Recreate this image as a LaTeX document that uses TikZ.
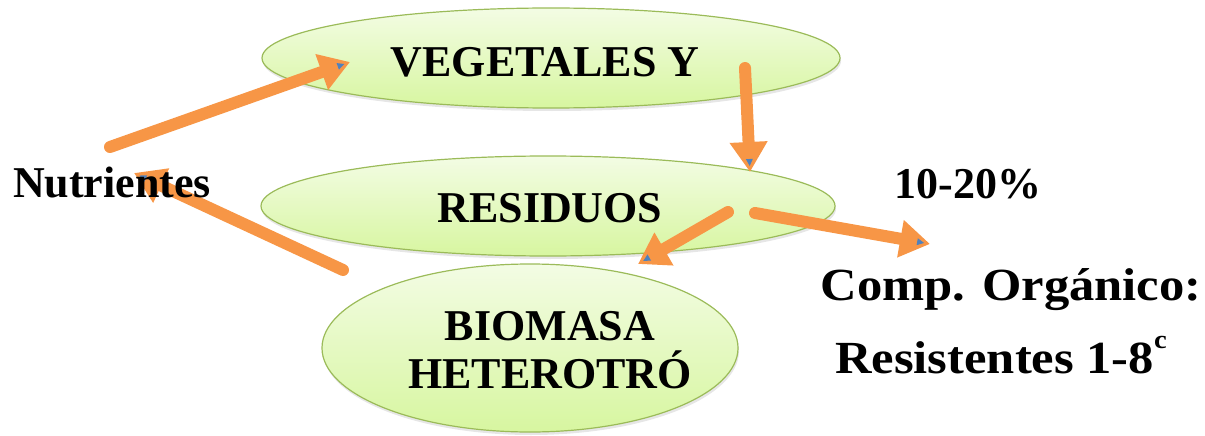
\documentclass[tikz,border=0pt]{standalone}
\usepackage{fontspec}
\setmainfont{Liberation Serif}
\usetikzlibrary{arrows.meta}
\usetikzlibrary{shapes.geometric}
\usetikzlibrary{shadows}
\usetikzlibrary{decorations.markings}
\definecolor{morange}{RGB}{247, 150, 70}
\definecolor{mgreen}{RGB}{155, 187, 89}
\definecolor{mlight}{RGB}{243, 252, 228}
\definecolor{mlime}{RGB}{215, 246, 160}
\definecolor{mblue}{RGB}{79, 129, 189}
\tikzset{blob/.style = {ellipse, draw=mgreen, line width=1.2pt, inner sep=0pt,
                        top color=mlight, bottom color=mlime,
                        drop shadow={opacity=0.2, shadow xshift=1pt, shadow yshift=-3pt}},
         lbl/.style = {font=\fontsize{44}{48}\selectfont\bfseries, align=center, anchor=base, inner sep=0pt},
         wide/.style = {font=\fontsize{46}{48}\selectfont\bfseries, xscale=1.1},
         flow/.style = {draw=morange, line width=12pt, line cap=round,
                        -{Triangle[length=30pt, width=36pt]},
                        decoration={markings,
                                    mark=at position 1 with {\fill[mblue] (-13pt, -3.5pt) -- (-6pt, 0) -- (-13pt, 3.5pt) -- cycle;}},
                        postaction={decorate}}}

\begin{document}
\begin{tikzpicture}[x=1pt, y=-1pt]
    \useasboundingbox (0, 0) rectangle (1205, 436);

    \node [blob, minimum width=578pt, minimum height=100pt] (veg) at (551, 58) {};
    \node [blob, minimum width=574pt, minimum height=100pt] (res) at (548, 206) {};
    \node [blob, minimum width=416pt, minimum height=168pt] (bio) at (530, 348) {};

    \coordinate (nut-out) at (110, 147);
    \coordinate (veg-in) at (350, 62);
    \coordinate (veg-out) at (745, 68);
    \coordinate (res-in) at (750, 172);
    \coordinate (res-bio) at (728, 212);
    \coordinate (bio-in) at (638, 264);
    \coordinate (res-comp) at (755, 213);
    \coordinate (comp-in) at (930, 244);
    \coordinate (bio-out) at (343, 270);
    \coordinate (nut-in) at (134, 173);

    \draw [flow] (nut-out) -- (veg-in);
    \draw [flow] (veg-out) -- (res-in);
    \draw [flow] (res-bio) -- (bio-in);
    \draw [flow] (res-comp) -- (comp-in);
    \draw [flow] (bio-out) -- (nut-in);

    \node [lbl] (vegtxt) at (545, 77) {VEGETALES Y};
    \node [lbl] (restxt) at (550, 222) {RESIDUOS};
    \node [lbl] (biotxt) at (550, 388) {BIOMASA\\HETEROTRÓ};

    \node [lbl] (nut) at (112, 197) {Nutrientes};
    \node [lbl] (pct) at (968, 198) {10-20\%};
    \node [lbl, wide] (comp) at (1011, 300) {Comp. Orgánico:};
    \node [lbl, wide] (resist) at (1001, 373) {Resistentes 1-8\raisebox{25pt}{\fontsize{26}{26}\selectfont c}};
\end{tikzpicture}
\end{document}
